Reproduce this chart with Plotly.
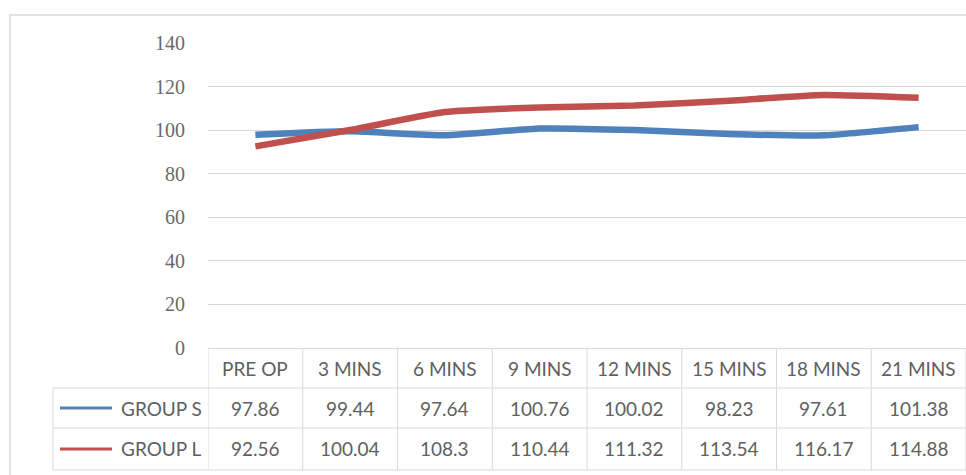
import plotly.graph_objects as go

# Time points and mean values for the two groups
categories = ["PRE OP", "3 MINS", "6 MINS", "9 MINS", "12 MINS", "15 MINS", "18 MINS", "21 MINS"]
group_s = [97.86, 99.44, 97.64, 100.76, 100.02, 98.23, 97.61, 101.38]
group_l = [92.56, 100.04, 108.3, 110.44, 111.32, 113.54, 116.17, 114.88]
series_names = ["GROUP S", "GROUP L"]
series_values = [group_s, group_l]
series_colors = ["#4F81BD", "#C0504D"]
y_ticks = [0, 20, 40, 60, 80, 100, 120, 140]

# Page geometry (pixels)
W, H = 966, 475
L, R, T, B = 208, 0, 43, 127
plot_w = W - L - R
plot_h = H - T - B

GRID = "#D9D9D9"
TEXT = "#5F5F5F"
TABLE_FONT = dict(family="Lato, Calibri, sans-serif", size=19, color=TEXT)


def px_x(px):
    return (px - L) / plot_w


def px_y(py):
    return (H - B - py) / plot_h


fig = go.Figure()
for name, vals, col in zip(series_names, series_values, series_colors):
    fig.add_trace(go.Scatter(
        x=categories, y=vals, mode="lines", name=name,
        line=dict(color=col, width=6.5, shape="spline", smoothing=0.5),
        showlegend=False,
    ))

shapes = []
annotations = []

# Outer chart border
shapes.append(dict(type="rect", xref="paper", yref="paper",
                   x0=px_x(10), x1=px_x(W + 5), y0=px_y(H + 5), y1=px_y(15),
                   line=dict(color=GRID, width=1.5), layer="below"))

# Data table rows (pixel bounds)
header_top, header_bot = 349, 388
row_bounds = [(388, 428), (428, 470)]
legend_left = 53
n = len(categories)

# Horizontal rules
for py in [header_bot] + [b for _, b in row_bounds]:
    shapes.append(dict(type="line", xref="paper", yref="paper",
                       x0=px_x(legend_left), x1=1, y0=px_y(py), y1=px_y(py),
                       line=dict(color=GRID, width=1)))
# Column separators
for k in range(n + 1):
    shapes.append(dict(type="line", xref="x", yref="paper",
                       x0=k - 0.5, x1=k - 0.5, y0=px_y(header_top), y1=px_y(row_bounds[-1][1]),
                       line=dict(color=GRID, width=1)))
shapes.append(dict(type="line", xref="paper", yref="paper",
                   x0=px_x(legend_left), x1=px_x(legend_left),
                   y0=px_y(header_bot), y1=px_y(row_bounds[-1][1]),
                   line=dict(color=GRID, width=1)))

# Header labels
for cat in categories:
    annotations.append(dict(xref="x", yref="paper", x=cat,
                            y=px_y((header_top + header_bot) / 2), text=cat,
                            showarrow=False, font=TABLE_FONT,
                            xanchor="center", yanchor="middle"))

# Series rows: legend key, name, values
for (top, bot), name, vals, col in zip(row_bounds, series_names, series_values, series_colors):
    yc = px_y((top + bot) / 2)
    shapes.append(dict(type="line", xref="paper", yref="paper",
                       x0=px_x(60), x1=px_x(112), y0=yc, y1=yc,
                       line=dict(color=col, width=3)))
    annotations.append(dict(xref="paper", yref="paper", x=px_x(204), y=yc,
                            text=name, showarrow=False, font=TABLE_FONT,
                            xanchor="right", yanchor="middle"))
    for cat, v in zip(categories, vals):
        annotations.append(dict(xref="x", yref="paper", x=cat, y=yc,
                                text=f"{v:g}", showarrow=False, font=TABLE_FONT,
                                xanchor="center", yanchor="middle"))

fig.update_layout(
    width=W, height=H,
    margin=dict(l=L, r=R, t=T, b=B, pad=0),
    paper_bgcolor="white", plot_bgcolor="white",
    shapes=shapes, annotations=annotations,
    xaxis=dict(type="category", range=[-0.5, n - 0.5], showticklabels=False,
               showgrid=False, zeroline=False, showline=True,
               linecolor=GRID, linewidth=1, ticks=""),
    yaxis=dict(range=[0, 140], tickvals=y_ticks, showgrid=True, gridcolor=GRID,
               gridwidth=1, zeroline=False, showline=False, ticks="",
               ticklabelstandoff=22,
               tickfont=dict(family="Liberation Serif, Cambria, serif", size=20, color="#6A6A6A")),
)

fig.write_html("out.html")
